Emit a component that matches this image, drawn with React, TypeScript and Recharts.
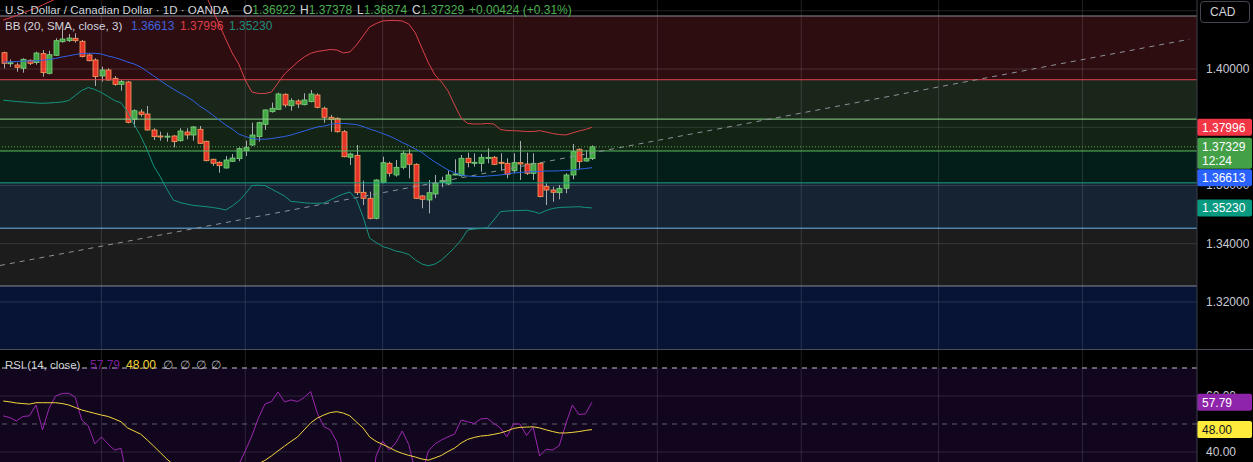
import React from "react";
import { ComposedChart, Bar, Line, XAxis, YAxis, ReferenceLine, ReferenceArea } from "recharts";

// ---- data ----
const opens = [
  1.40560, 1.40205, 1.40137, 1.40024, 1.40298, 1.40219, 1.40527, 1.39851, 1.40470, 1.40938,
  1.40973, 1.41053, 1.40951, 1.40481, 1.40309, 1.39760, 1.39966, 1.39680, 1.39474, 1.39554,
  1.38274, 1.38524, 1.38455, 1.37906, 1.37700, 1.37683, 1.37700, 1.37540, 1.37837, 1.37734,
  1.37930, 1.37518, 1.36900, 1.36797, 1.36601, 1.36831, 1.36921, 1.37195, 1.37391, 1.37677,
  1.38101, 1.38535, 1.38616, 1.39131, 1.38740, 1.38901, 1.38776, 1.38879, 1.39107, 1.38651,
  1.38342, 1.38307, 1.37847, 1.36968, 1.37036, 1.35766, 1.35560, 1.34873, 1.36110, 1.36762,
  1.36361, 1.36625, 1.37082, 1.36728, 1.35640, 1.35502, 1.35708, 1.36110, 1.36052, 1.36361,
  1.36337, 1.36934, 1.36762, 1.36762, 1.36922, 1.36968, 1.36797, 1.36762, 1.36508, 1.36784,
  1.36738, 1.36419, 1.36762, 1.35961, 1.35845, 1.35753, 1.35904, 1.36361, 1.37243, 1.36841,
  1.36922,
];
const highs = [
  1.40594, 1.40326, 1.40217, 1.40367, 1.40333, 1.40594, 1.40652, 1.40629, 1.41053, 1.41363,
  1.41202, 1.41225, 1.40996, 1.40538, 1.40367, 1.40080, 1.40023, 1.39760, 1.39622, 1.39588,
  1.38616, 1.38616, 1.38730, 1.37964, 1.37848, 1.37814, 1.37734, 1.37964, 1.37964, 1.38043,
  1.38043, 1.37540, 1.36921, 1.36831, 1.37013, 1.37082, 1.37311, 1.37540, 1.38157, 1.38192,
  1.38616, 1.38845, 1.39188, 1.39166, 1.38994, 1.38960, 1.39166, 1.39279, 1.39166, 1.38707,
  1.38421, 1.38342, 1.37906, 1.37127, 1.37391, 1.36165, 1.35788, 1.36213, 1.36989, 1.36818,
  1.36876, 1.37195, 1.37243, 1.36762, 1.35674, 1.36189, 1.36361, 1.36302, 1.36510, 1.36899,
  1.37047, 1.37127, 1.37105, 1.37082, 1.37277, 1.37013, 1.37105, 1.36934, 1.37105, 1.37528,
  1.37127, 1.37105, 1.36797, 1.36076, 1.35961, 1.36017, 1.36419, 1.37425, 1.37277, 1.37219,
  1.37378,
];
const lows = [
  1.40024, 1.40072, 1.39908, 1.39873, 1.40137, 1.40150, 1.39737, 1.39817, 1.40446, 1.40904,
  1.40927, 1.40904, 1.40401, 1.40264, 1.39416, 1.39565, 1.39599, 1.39427, 1.39255, 1.38136,
  1.38000, 1.38362, 1.37883, 1.37562, 1.37539, 1.37506, 1.37312, 1.37506, 1.37586, 1.37540,
  1.37425, 1.36831, 1.36670, 1.36440, 1.36578, 1.36807, 1.36831, 1.37013, 1.37356, 1.37506,
  1.37906, 1.38501, 1.38592, 1.38684, 1.38568, 1.38661, 1.38753, 1.38856, 1.38651, 1.38157,
  1.37847, 1.37814, 1.36968, 1.36704, 1.35674, 1.35330, 1.34839, 1.34839, 1.36076, 1.36305,
  1.36305, 1.36556, 1.36247, 1.35536, 1.35217, 1.35045, 1.35560, 1.35939, 1.36017, 1.36350,
  1.36303, 1.36625, 1.36646, 1.36474, 1.36762, 1.36704, 1.36508, 1.36247, 1.36419, 1.36189,
  1.36361, 1.36189, 1.35595, 1.35330, 1.35444, 1.35526, 1.35732, 1.36213, 1.36556, 1.36818,
  1.36874,
];
const closes = [
  1.40196, 1.40215, 1.40058, 1.40333, 1.40196, 1.40549, 1.39874, 1.40492, 1.40973, 1.41030,
  1.41064, 1.40973, 1.40426, 1.40285, 1.39737, 1.39966, 1.39622, 1.39474, 1.39566, 1.38170,
  1.38568, 1.38445, 1.37906, 1.37677, 1.37677, 1.37695, 1.37506, 1.37871, 1.37734, 1.38010,
  1.37449, 1.36852, 1.36764, 1.36680, 1.36876, 1.36944, 1.37264, 1.37311, 1.37734, 1.38157,
  1.38592, 1.38651, 1.39142, 1.38764, 1.38912, 1.38798, 1.38936, 1.39142, 1.38684, 1.38342,
  1.38273, 1.37847, 1.36989, 1.37082, 1.35753, 1.35560, 1.34873, 1.36189, 1.36783, 1.36419,
  1.36625, 1.37106, 1.36728, 1.35560, 1.35526, 1.35753, 1.36076, 1.36165, 1.36361, 1.36395,
  1.36934, 1.36784, 1.36797, 1.36968, 1.36968, 1.36728, 1.36762, 1.36385, 1.36784, 1.36738,
  1.36419, 1.36762, 1.35618, 1.35845, 1.35766, 1.35904, 1.36361, 1.37162, 1.36818, 1.36934,
  1.37329,
];

const bbUpper = [
  1.41682, 1.41751, 1.41837, 1.41923, 1.42009, 1.42094, 1.42197, 1.42300, 1.42403, 1.42506,
  1.42644, 1.42781, 1.42918, 1.43021, 1.43124, 1.43193, 1.43227, 1.43262, 1.43296, 1.43296,
  1.43296, 1.43296, 1.43313, 1.43330, 1.43330, 1.43330, 1.43330, 1.43330, 1.43296, 1.43227,
  1.42987, 1.42506, 1.42026, 1.41545, 1.41030, 1.40549, 1.40172, 1.39622, 1.39210, 1.39159,
  1.39159, 1.39210, 1.39519, 1.39828, 1.40034, 1.40240, 1.40412, 1.40539, 1.40601, 1.40635,
  1.40670, 1.40652, 1.40549, 1.40584, 1.40824, 1.41133, 1.41442, 1.41562, 1.41648, 1.41665,
  1.41665, 1.41648, 1.41545, 1.41236, 1.40721, 1.40206, 1.39794, 1.39554, 1.39245, 1.38764,
  1.38318, 1.38129, 1.38112, 1.38112, 1.38129, 1.38112, 1.37923, 1.37888, 1.37882, 1.37871,
  1.37854, 1.37854, 1.37882, 1.37837, 1.37785, 1.37751, 1.37734, 1.37803, 1.37871, 1.37923,
  1.37996,
];
const bbBasis = [
  1.40240, 1.40247, 1.40258, 1.40268, 1.40275, 1.40282, 1.40299, 1.40326, 1.40361, 1.40412,
  1.40453, 1.40498, 1.40532, 1.40539, 1.40539, 1.40515, 1.40446, 1.40395, 1.40326, 1.40240,
  1.40172, 1.40069, 1.39914, 1.39760, 1.39605, 1.39451, 1.39313, 1.39176, 1.39056, 1.38918,
  1.38730, 1.38592, 1.38421, 1.38249, 1.38077, 1.37940, 1.37768, 1.37682, 1.37614, 1.37586,
  1.37590, 1.37610, 1.37648, 1.37682, 1.37734, 1.37803, 1.37871, 1.37940, 1.38009, 1.38043,
  1.38094, 1.38129, 1.38129, 1.38112, 1.38094, 1.38026, 1.37940, 1.37871, 1.37785, 1.37700,
  1.37597, 1.37476, 1.37373, 1.37253, 1.37133, 1.36961, 1.36807, 1.36669, 1.36532, 1.36446,
  1.36360, 1.36326, 1.36309, 1.36302, 1.36326, 1.36343, 1.36360, 1.36395, 1.36429, 1.36446,
  1.36463, 1.36474, 1.36481, 1.36498, 1.36498, 1.36505, 1.36515, 1.36532, 1.36559, 1.36583,
  1.36613,
];
const bbLower = [
  1.38929, 1.38908, 1.38884, 1.38867, 1.38850, 1.38833, 1.38822, 1.38833, 1.38850, 1.38867,
  1.38918, 1.39090, 1.39262, 1.39365, 1.39296, 1.39193, 1.39056, 1.38918, 1.38839, 1.38524,
  1.38094, 1.37700, 1.37219, 1.36669, 1.36302, 1.35880, 1.35502, 1.35416, 1.35365, 1.35320,
  1.35296, 1.35272, 1.35245, 1.35210, 1.35159, 1.35296, 1.35468, 1.35708, 1.36000, 1.36010,
  1.35997, 1.35880, 1.35760, 1.35639, 1.35451, 1.35434, 1.35406, 1.35389, 1.35389, 1.35399,
  1.35502, 1.35612, 1.35708, 1.35777, 1.35519, 1.34929, 1.34197, 1.34043, 1.33905, 1.33837,
  1.33751, 1.33706, 1.33631, 1.33442, 1.33305, 1.33243, 1.33305, 1.33442, 1.33648, 1.33871,
  1.34129, 1.34472, 1.34506, 1.34523, 1.34547, 1.34815, 1.35100, 1.35124, 1.35135, 1.35141,
  1.35152, 1.35107, 1.35039, 1.35141, 1.35210, 1.35245, 1.35255, 1.35262, 1.35272, 1.35245,
  1.35230,
];

const rsiValues = [
  52.9, 52.3, 51.1, 52.7, 52.9, 56.8, 47.9, 55.6, 60.0, 60.9,
  61.0, 59.6, 51.4, 49.3, 42.9, 45.4, 42.9, 40.7, 41.3, 30.0,
  33.0, 32.0, 28.0, 26.0, 25.0, 25.5, 24.0, 27.0, 26.0, 29.0,
  27.0, 22.0, 21.0, 20.0, 24.0, 26.0, 35.5, 40.4, 45.7, 52.1,
  57.1, 58.0, 61.4, 57.9, 58.6, 58.0, 59.5, 61.6, 53.9, 49.1,
  47.9, 43.6, 33.0, 34.0, 25.0, 24.0, 20.0, 38.6, 43.9, 40.7,
  43.2, 47.5, 42.6, 33.0, 32.0, 40.4, 42.9, 44.3, 45.4, 46.4,
  51.4, 50.8, 50.2, 51.8, 52.0, 50.2, 48.6, 45.4, 50.0, 50.0,
  45.9, 48.9, 38.6, 41.0, 40.7, 42.3, 50.0, 56.8, 53.4, 53.6,
  57.79,
];
const rsiMa = [
  58.2, 57.9, 57.5, 57.3, 57.1, 57.6, 57.6, 57.6, 57.6, 57.3,
  56.8, 55.9, 55.0, 54.4, 53.8, 53.2, 52.7, 51.8, 50.8, 48.6,
  47.5, 46.4, 44.3, 42.1, 39.8, 37.5, 35.5, 34.0, 33.0, 32.0,
  31.5, 31.0, 31.0, 31.5, 32.5, 33.5, 34.0, 34.5, 35.0, 35.8,
  37.0, 38.6, 40.4, 42.1, 43.8, 45.4, 47.9, 50.4, 52.1, 53.2,
  54.1, 54.4, 53.9, 52.9, 50.7, 48.6, 45.4, 43.8, 42.7, 41.6,
  40.4, 39.5, 38.8, 38.2, 37.5, 37.1, 37.9, 38.8, 40.2, 41.4,
  43.2, 44.5, 45.2, 45.7, 45.9, 46.3, 46.8, 47.5, 48.4, 48.8,
  48.9, 49.0, 48.6, 47.9, 47.3, 46.8, 46.8, 47.0, 47.3, 47.7,
  48.0,
];

// month boundaries (bar index) for the vertical grid
const monthStarts = [15, 37, 58, 78, 100, 122, 143, 165];
const priceGrid = [1.32, 1.34, 1.36, 1.38, 1.40, 1.42];
const priceTicks = [1.32, 1.34, 1.36, 1.40];
const rsiGrid = [40, 60];
const rsiTicks = [40, 60];

// fib retracement levels: 0, .236, .382, .5, .618, .786, 1, 1.272
const fibLevels = [1.41820, 1.39632, 1.38279, 1.37185, 1.36091, 1.34534, 1.32550, 1.30029];
const fibLineColors = ["#8a8d96", "#e0454f", "#8fd18f", "#5cbf5f", "#1aa58a", "#6fb8f0", "#8a8d96"];
const fibFills = ["#2e0d11", "#1b261b", "#132314", "#031e18", "#152332", "#1c1c1c", "#071435"];

// trend line drawn on the chart: [bar index, price]
const trendAnchors = [
  { i: -0.5, price: 1.33253 },
  { i: 181.3, price: 1.4102 },
];

const lastPrice = 1.37329;

// ---- layout ----
const W = 1253;
const AXIS_W = 56;
const PLOT_W = W - AXIS_W;
const MAIN_H = 349;
const RSI_H = 112;
const FONT = "'Liberation Sans', Arial, sans-serif";

const candles = opens.map((open, i) => ({
  i,
  open,
  high: highs[i],
  low: lows[i],
  close: closes[i],
  range: [lows[i], highs[i]],
  upper: bbUpper[i],
  basis: bbBasis[i],
  lower: bbLower[i],
}));

const rsiData = rsiValues.map((v, i) => ({ i, rsi: v, ma: rsiMa[i] }));

function Candle(props: any) {
  const { x, y, width, height, payload } = props;
  if (x == null || y == null) return null;
  const top = Math.min(y, y + height);
  const h = Math.abs(height);
  const span = payload.high - payload.low || 1e-9;
  const toY = (p: number) => top + ((payload.high - p) / span) * h;
  const cx = Math.round(x + width / 2) + 0.5;
  const up = payload.close >= payload.open;
  const bTop = toY(Math.max(payload.open, payload.close));
  const bBot = toY(Math.min(payload.open, payload.close));
  return (
    <g>
      <line x1={cx} x2={cx} y1={top} y2={top + h} stroke="#a9abb2" strokeWidth={1} />
      <rect
        x={cx - 2.5}
        y={bTop}
        width={5}
        height={Math.max(1, bBot - bTop)}
        fill={up ? "#43a843" : "#e5332a"}
        stroke={up ? "#7ccf7e" : "#f6a05c"}
        strokeWidth={0.8}
      />
    </g>
  );
}

// axis tick label drawn from a reference line, so tags can sit above it
function tickLabel(text: string) {
  return (props: any) => {
    const cy = (props.viewBox || {}).y || 0;
    return (
      <text x={PLOT_W + 9} y={cy + 4} fill="#c9cbd1" fontSize={12} fontFamily={FONT}>
        {text}
      </text>
    );
  };
}

function tag(text: string, bg: string, fg: string, shift = 0, sub?: string) {
  return (props: any) => {
    const vb = props.viewBox || {};
    const cy = (vb.y || 0) + shift;
    const h = sub ? 31 : 17;
    const top = sub ? cy - 9 : cy - h / 2;
    return (
      <g>
        <rect x={PLOT_W} y={top} width={AXIS_W - 1} height={h} rx={2} fill={bg} />
        <text x={PLOT_W + 5} y={sub ? cy + 4 : cy + 4.5} fill={fg} fontSize={12} fontFamily={FONT}>
          {text}
        </text>
        {sub ? (
          <text x={PLOT_W + 5} y={cy + 18} fill={fg} fontSize={12} fontFamily={FONT}>
            {sub}
          </text>
        ) : null}
      </g>
    );
  };
}

const gridStroke = "rgba(255,255,255,0.13)";

function MainChart() {
  return (
    <ComposedChart width={W} height={MAIN_H} data={candles} margin={{ top: 0, right: 0, bottom: 0, left: 0 }}>
      <XAxis type="number" dataKey="i" domain={[-0.5, 182.5]} hide allowDataOverflow />
      <YAxis
        orientation="right"
        width={AXIS_W}
        domain={[1.30386, 1.42369]}
        allowDataOverflow
        ticks={priceTicks}
        tick={false}
        tickLine={false}
        axisLine={{ stroke: "#3c3f4a" }}
      />
      {fibFills.map((fill, k) => (
        <ReferenceArea
          key={"band" + k}
          y1={fibLevels[k + 1]}
          y2={fibLevels[k]}
          fill={fill}
          fillOpacity={1}
          stroke="none"
          ifOverflow="hidden"
        />
      ))}
      {priceGrid.map((p) => (
        <ReferenceLine
          key={"pg" + p}
          y={p}
          stroke={gridStroke}
          label={priceTicks.includes(p) ? tickLabel(p.toFixed(5)) : undefined}
        />
      ))}
      {monthStarts.map((m) => (
        <ReferenceLine key={"mg" + m} x={m} stroke={gridStroke} />
      ))}
      {fibLineColors.map((c, k) => (
        <ReferenceLine key={"fl" + k} y={fibLevels[k]} stroke={c} strokeWidth={1} />
      ))}
      <ReferenceLine
        segment={[
          { x: trendAnchors[0].i, y: trendAnchors[0].price },
          { x: trendAnchors[1].i, y: trendAnchors[1].price },
        ]}
        stroke="#8d9099"
        strokeDasharray="5 5"
        ifOverflow="hidden"
      />
      <Line dataKey="upper" stroke="#d8424a" strokeWidth={1} dot={false} activeDot={false} isAnimationActive={false} />
      <Line dataKey="basis" stroke="#2f62e8" strokeWidth={1} dot={false} activeDot={false} isAnimationActive={false} />
      <Line dataKey="lower" stroke="#15937f" strokeWidth={1} dot={false} activeDot={false} isAnimationActive={false} />
      <Bar dataKey="range" barSize={5} shape={<Candle />} isAnimationActive={false} />
      <ReferenceLine y={lastPrice} stroke="#4caf50" strokeDasharray="1 2" />
      <ReferenceLine y={bbUpper[90]} stroke="none" label={tag("1.37996", "#f23645", "#ffffff")} />
      <ReferenceLine y={bbLower[90]} stroke="none" label={tag("1.35230", "#089981", "#ffffff")} />
      <ReferenceLine y={bbBasis[90]} stroke="none" label={tag("1.36613", "#2962ff", "#ffffff", 10)} />
      <ReferenceLine y={lastPrice} stroke="none" label={tag("1.37329", "#43a047", "#ffffff", 0, "12:24")} />
    </ComposedChart>
  );
}

function RsiChart() {
  return (
    <ComposedChart width={W} height={RSI_H} data={rsiData} margin={{ top: 0, right: 0, bottom: 0, left: 0 }}>
      <XAxis type="number" dataKey="i" domain={[-0.5, 182.5]} hide allowDataOverflow />
      <YAxis
        orientation="right"
        width={AXIS_W}
        domain={[36.43, 76.43]}
        allowDataOverflow
        ticks={rsiTicks}
        tick={false}
        tickLine={false}
        axisLine={{ stroke: "#3c3f4a" }}
      />
      <ReferenceArea y1={30} y2={70} fill="#12061e" fillOpacity={1} stroke="none" ifOverflow="hidden" />
      {rsiGrid.map((v) => (
        <ReferenceLine
          key={"rg" + v}
          y={v}
          stroke="rgba(255,255,255,0.12)"
          label={rsiTicks.includes(v) ? tickLabel(v.toFixed(2)) : undefined}
        />
      ))}
      {monthStarts.map((m) => (
        <ReferenceLine key={"rm" + m} x={m} stroke="rgba(255,255,255,0.12)" />
      ))}
      <ReferenceLine y={70} stroke="#c2c4ca" strokeDasharray="5 5" />
      <ReferenceLine y={50} stroke="#5d5f6b" strokeDasharray="5 5" />
      <Line dataKey="rsi" stroke="#9c27b0" strokeWidth={1} dot={false} activeDot={false} isAnimationActive={false} />
      <Line dataKey="ma" stroke="#f5d63d" strokeWidth={1} dot={false} activeDot={false} isAnimationActive={false} />
      <ReferenceLine y={rsiValues[90]} stroke="none" label={tag("57.79", "#8e24aa", "#ffffff")} />
      <ReferenceLine y={rsiMa[90]} stroke="none" label={tag("48.00", "#ffeb3b", "#131722")} />
    </ComposedChart>
  );
}

const green = "#4caf50";
const hdr = { position: "absolute" as const, fontSize: 12, lineHeight: "16px", whiteSpace: "nowrap" as const };

export default function App() {
  return (
    <div
      style={{
        position: "absolute",
        left: 0,
        top: 0,
        width: W,
        height: 462,
        background: "#000",
        overflow: "hidden",
        fontFamily: FONT,
        color: "#d1d4dc",
      }}
    >
      <div style={{ position: "absolute", left: 0, top: 0 }}>
        <MainChart />
      </div>
      <div style={{ position: "absolute", left: 0, top: MAIN_H, width: W, height: 1, background: "#4a4d57" }} />
      <div style={{ position: "absolute", left: 0, top: MAIN_H + 1 }}>
        <RsiChart />
      </div>

      <span style={{ ...hdr, left: 5, top: 2, fontSize: 11.5 }}>U.S. Dollar / Canadian Dollar · 1D · OANDA</span>
      <span style={{ ...hdr, left: 243, top: 2 }}>O<span style={{ color: green }}>1.36922</span></span>
      <span style={{ ...hdr, left: 300, top: 2 }}>H<span style={{ color: green }}>1.37378</span></span>
      <span style={{ ...hdr, left: 357, top: 2 }}>L<span style={{ color: green }}>1.36874</span></span>
      <span style={{ ...hdr, left: 412, top: 2 }}>C<span style={{ color: green }}>1.37329</span></span>
      <span style={{ ...hdr, left: 469, top: 2, color: green }}>+0.00424 (+0.31%)</span>

      <span style={{ ...hdr, left: 5, top: 18, fontSize: 11.6 }}>BB (20, SMA, close, 3)</span>
      <span style={{ ...hdr, left: 131, top: 18, color: "#3d63dd" }}>1.36613</span>
      <span style={{ ...hdr, left: 180, top: 18, color: "#dc3e48" }}>1.37996</span>
      <span style={{ ...hdr, left: 229, top: 18, color: "#1a8f7b" }}>1.35230</span>

      <span style={{ ...hdr, left: 5, top: 357, fontSize: 11.4 }}>RSI (14, close)</span>
      <span style={{ ...hdr, left: 90, top: 357, color: "#7b1fa2" }}>57.79</span>
      <span style={{ ...hdr, left: 126, top: 357, color: "#f5d63d" }}>48.00</span>
      <span style={{ ...hdr, left: 163, top: 357, color: "#b2b5be" }}>∅</span>
      <span style={{ ...hdr, left: 180, top: 357, color: "#b2b5be" }}>∅</span>
      <span style={{ ...hdr, left: 196, top: 357, color: "#b2b5be" }}>∅</span>
      <span style={{ ...hdr, left: 211, top: 357, color: "#b2b5be" }}>∅</span>

      <div
        style={{
          position: "absolute",
          left: 1200,
          top: 1,
          width: 50,
          height: 22,
          boxSizing: "border-box",
          border: "1px solid #434651",
          borderRadius: 4,
          fontSize: 12,
          lineHeight: "20px",
          paddingLeft: 9,
        }}
      >
        CAD
      </div>
    </div>
  );
}
